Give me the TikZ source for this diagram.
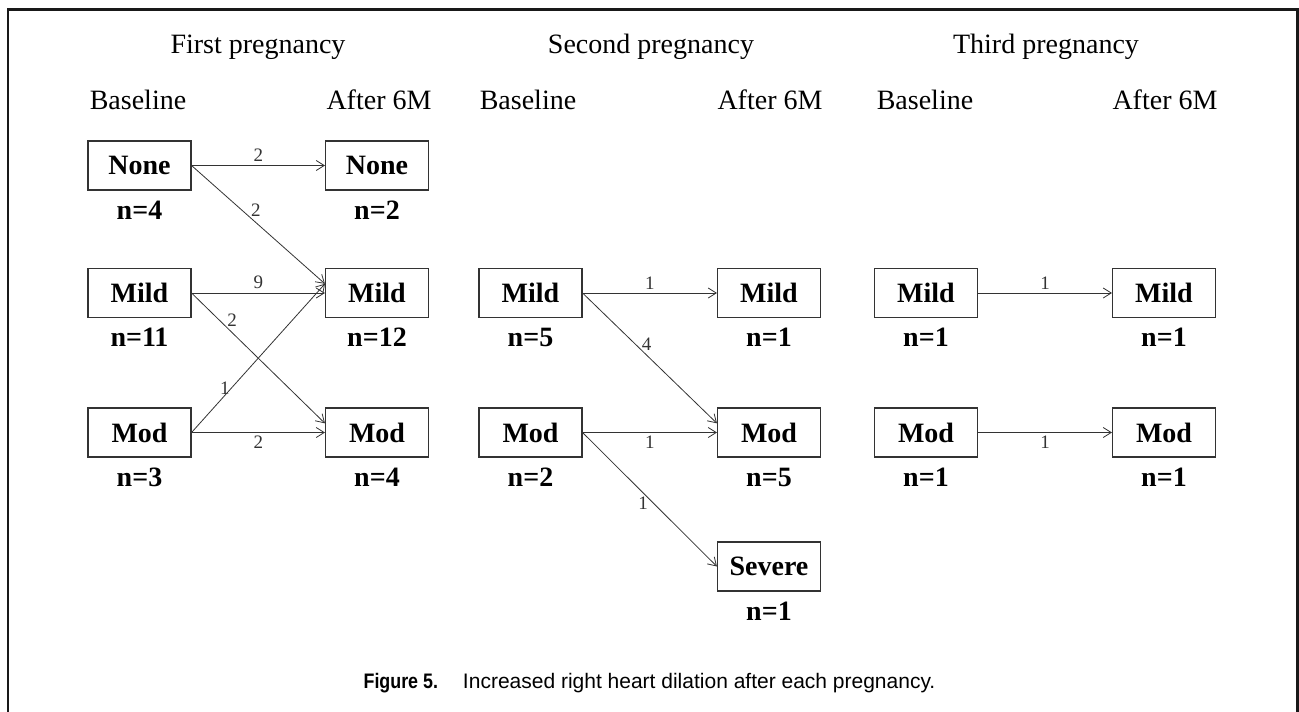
\documentclass[tikz,border=0pt]{standalone}
\usepackage{fontspec}
\usepackage{graphicx}
\setmainfont{Liberation Serif}
\setsansfont{Liberation Sans}
\usetikzlibrary{arrows.meta,positioning}
\definecolor{frame1}{rgb}{0.1,0.1,0.1}
\definecolor{edge1}{rgb}{0.2,0.2,0.2}
\tikzset{
grade/.style={draw=edge1, line width=1.1pt, minimum width=103pt, minimum height=49pt, inner sep=0pt, font=\fontsize{28}{30}\selectfont\bfseries},
count/.style={inner sep=0pt, font=\fontsize{28}{30}\selectfont\bfseries},
head/.style={anchor=base, inner sep=0pt, font=\fontsize{28}{30}\selectfont},
flow/.style={-{Straight Barb[length=8pt,width=10pt]}, line width=0.8pt, color=edge1},
num/.style={inner sep=3.5pt, font=\fontsize{19}{20}\selectfont}
}
\begin{document}
\begin{tikzpicture}[x=1pt,y=-1pt]
\useasboundingbox (0,0) rectangle (1299,712);
\draw[line width=2.5pt, color=frame1] (8,712) -- (8,9.5) -- (1297.5,9.5) -- (1297.5,712);

\node[head] (hFirst) at (258,53) {First pregnancy};
\node[head] (hSecond) at (651,53) {Second pregnancy};
\node[head] (hThird) at (1046,53) {Third pregnancy};
\node[head] (bl1) at (138,109) {Baseline};
\node[head] (af1) at (379,109) {After 6M};
\node[head] (bl2) at (528,109) {Baseline};
\node[head] (af2) at (770,109) {After 6M};
\node[head] (bl3) at (925,109) {Baseline};
\node[head] (af3) at (1165,109) {After 6M};

\node[grade] (fNoneB) at (139.5,165.5) {None};
\node[grade] (fNoneA) at (377,165.5) {None};
\node[grade] (fMildB) at (139.5,293) {Mild};
\node[grade] (fMildA) at (377,293) {Mild};
\node[grade] (fModB) at (139.5,432.5) {Mod};
\node[grade] (fModA) at (377,432.5) {Mod};
\node[grade] (sMildB) at (530.5,293) {Mild};
\node[grade] (sMildA) at (769,293) {Mild};
\node[grade] (sModB) at (530.5,432.5) {Mod};
\node[grade] (sModA) at (769,432.5) {Mod};
\node[grade] (sSevA) at (769,566.5) {Severe};
\node[grade] (tMildB) at (926,293) {Mild};
\node[grade] (tMildA) at (1164,293) {Mild};
\node[grade] (tModB) at (926,432.5) {Mod};
\node[grade] (tModA) at (1164,432.5) {Mod};

\node[count, below=10pt of fNoneB] (cfNoneB) {n=4};
\node[count, below=10pt of fNoneA] (cfNoneA) {n=2};
\node[count, below=10pt of fMildB] (cfMildB) {n=11};
\node[count, below=10pt of fMildA] (cfMildA) {n=12};
\node[count, below=10pt of fModB] (cfModB) {n=3};
\node[count, below=10pt of fModA] (cfModA) {n=4};
\node[count, below=10pt of sMildB] (csMildB) {n=5};
\node[count, below=10pt of sMildA] (csMildA) {n=1};
\node[count, below=10pt of sModB] (csModB) {n=2};
\node[count, below=10pt of sModA] (csModA) {n=5};
\node[count, below=10pt of sSevA] (csSevA) {n=1};
\node[count, below=10pt of tMildB] (ctMildB) {n=1};
\node[count, below=10pt of tMildA] (ctMildA) {n=1};
\node[count, below=10pt of tModB] (ctModB) {n=1};
\node[count, below=10pt of tModA] (ctModA) {n=1};

\draw[flow] (fNoneB) -- node[num, above] {2} (fNoneA);
\draw[flow] (fNoneB.east) -- node[num, pos=.38, right=5pt] {2} (fMildA.170);
\draw[flow] (fMildB) -- node[num, above] {9} (fMildA);
\draw[flow] (fMildB.east) -- node[num, pos=.21, right=4pt] {2} (fModA.170);
\draw[flow] (fModB.east) -- node[num, pos=.30, left=-2pt] {1} (fMildA.170);
\draw[flow] (fModB) -- node[num, below] {2} (fModA);

\draw[flow] (sMildB) -- node[num, above] {1} (sMildA);
\draw[flow] (sMildB.east) -- node[num, pos=.39, right=3pt] {4} (sModA.170);
\draw[flow] (sModB) -- node[num, below] {1} (sModA);
\draw[flow] (sModB.east) -- node[num, pos=.53, left=2pt] {1} (sSevA.west);

\draw[flow] (tMildB) -- node[num, above] {1} (tMildA);
\draw[flow] (tModB) -- node[num, below] {1} (tModA);

\node[anchor=base, inner sep=0pt, font=\sffamily\fontsize{21}{23}\selectfont] (caption) at (649.5,688)
{\scalebox{0.85}[1]{\bfseries Figure 5.}\hspace{25pt}Increased right heart dilation after each pregnancy.};
\end{tikzpicture}
\end{document}
